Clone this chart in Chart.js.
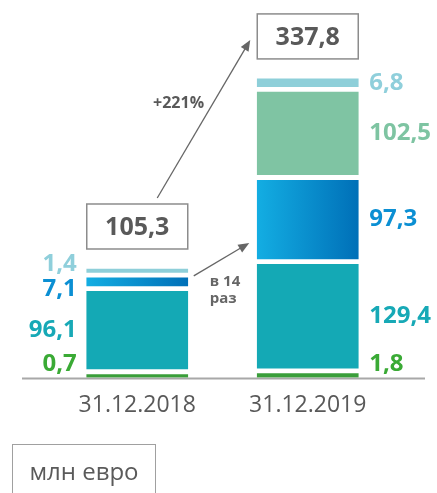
<!DOCTYPE html>
<html>
<head>
<meta charset="utf-8">
<script src="https://cdn.jsdelivr.net/npm/chart.js@4.4.1/dist/chart.umd.min.js"></script>
<style>
    html, body { margin: 0; padding: 0; background: #fff; }
    #wrap { position: relative; width: 437px; height: 493px; overflow: hidden; }
    #unit {
        position: absolute; left: 12px; top: 444px; width: 142px; height: 60px;
        border: 1px solid #a0a0a0; color: #5a5a5a; text-align: center;
        font: 24px "Open Sans", sans-serif; line-height: 52px;
    }
</style>
</head>
<body>
<div id="wrap">
    <canvas id="chart" width="437" height="493"></canvas>
    <div id="unit">млн евро</div>
</div>
<script>
const categories = ['31.12.2018', '31.12.2019'];
const greenValues = [0.7, 1.8];
const tealValues = [96.1, 129.4];
const blueValues = [7.1, 97.3];
const mintValues = [null, 102.5];
const lightValues = [1.4, 6.8];

const GAP = 7;   // white gap between stacked segments (value units)
const PAD = 3;   // keeps the thin segments visible

const stackOrder = [greenValues, tealValues, blueValues, mintValues, lightValues];
const labelColors = ['#3aaa35', '#17a9b6', '#0b8fd3', '#7ec4a2', '#8fcfdb'];

// floating ranges built from the values, bottom to top
const ranges = stackOrder.map(() => []);
categories.forEach((c, i) => {
    let top = 0;
    let first = true;
    stackOrder.forEach((vals, k) => {
        const v = vals[i];
        if (v == null) { ranges[k].push(null); return; }
        const start = first ? 0 : top + GAP;
        const end = start + v + PAD;
        ranges[k].push([start, end]);
        top = end;
        first = false;
    });
});

const totals = categories.map((c, i) => stackOrder.reduce((s, vals) => s + (vals[i] || 0), 0));
const fmt = v => v.toFixed(1).replace('.', ',');

const blueGradient = (ctx) => {
    const chart = ctx.chart;
    if (!chart.chartArea || ctx.dataIndex == null) return '#0a8fd0';
    const x = chart.scales.x.getPixelForValue(ctx.dataIndex);
    const g = chart.ctx.createLinearGradient(x - 50, 0, x + 50, 0);
    g.addColorStop(0, '#13ade2');
    g.addColorStop(1, '#0070b8');
    return g;
};

function arrow(ctx, x1, y1, x2, y2) {
    const a = Math.atan2(y2 - y1, x2 - x1);
    ctx.strokeStyle = '#666';
    ctx.fillStyle = '#666';
    ctx.lineWidth = 1.3;
    ctx.beginPath();
    ctx.moveTo(x1, y1);
    ctx.lineTo(x2 - 8 * Math.cos(a), y2 - 8 * Math.sin(a));
    ctx.stroke();
    ctx.beginPath();
    ctx.moveTo(x2, y2);
    ctx.lineTo(x2 - 11 * Math.cos(a) + 4.5 * Math.sin(a), y2 - 11 * Math.sin(a) - 4.5 * Math.cos(a));
    ctx.lineTo(x2 - 11 * Math.cos(a) - 4.5 * Math.sin(a), y2 - 11 * Math.sin(a) + 4.5 * Math.cos(a));
    ctx.closePath();
    ctx.fill();
}

const baseline = {
    id: 'baseline',
    beforeDatasetsDraw(chart) {
        const ctx = chart.ctx;
        const y0 = chart.scales.y.getPixelForValue(0);
        ctx.save();
        ctx.strokeStyle = '#a8a8a8';
        ctx.lineWidth = 2;
        ctx.beginPath();
        ctx.moveTo(22, y0 + 1);
        ctx.lineTo(425, y0 + 1);
        ctx.stroke();
        ctx.restore();
    }
};

const annotations = {
    id: 'annotations',
    afterDatasetsDraw(chart) {
        const ctx = chart.ctx;
        const y0 = chart.scales.y.getPixelForValue(0);
        const boxes = [];
        ctx.save();

        categories.forEach((c, i) => {
            // segment labels
            const items = [];
            let topY = y0, left = 0, right = 0;
            stackOrder.forEach((vals, k) => {
                const el = chart.getDatasetMeta(k).data[i];
                if (vals[i] == null || !el) return;
                items.push({ text: fmt(vals[i]), color: labelColors[k], y: (el.y + el.base) / 2 });
                topY = Math.min(topY, el.y);
                left = el.x - el.width / 2;
                right = el.x + el.width / 2;
            });
            const limit = y0 - 13;
            items[0].y = Math.min(items[0].y, limit);
            for (let pass = 0; pass < 3; pass++) {
                for (let j = 1; j < items.length; j++) {
                    if (items[j - 1].y - items[j].y < 25) {
                        const mid = (items[j - 1].y + items[j].y) / 2;
                        items[j - 1].y = Math.min(mid + 12.5, j - 1 === 0 ? limit : Infinity);
                        items[j].y = items[j - 1].y - 25;
                    }
                }
            }
            ctx.font = 'bold 24px "Open Sans", sans-serif';
            ctx.textBaseline = 'middle';
            ctx.textAlign = i === 0 ? 'right' : 'left';
            items.forEach(it => {
                ctx.fillStyle = it.color;
                ctx.fillText(it.text, i === 0 ? left - 10 : right + 11, it.y);
            });

            // total box
            const bh = 45;
            const by = topY - 20 - bh;
            ctx.strokeStyle = '#8c8c8c';
            ctx.lineWidth = 1.5;
            ctx.strokeRect(left, by, right - left, bh);
            ctx.fillStyle = '#595959';
            ctx.textAlign = 'center';
            ctx.font = 'bold 25px "Open Sans", sans-serif';
            ctx.fillText(fmt(totals[i]), (left + right) / 2, by + bh / 2 + 1);
            boxes.push({ left, right, top: by, cx: (left + right) / 2 });
        });

        // total growth arrow
        const x1 = boxes[0].cx + 20, y1 = boxes[0].top - 6;
        const x2 = boxes[1].left - 7, y2 = boxes[1].top + 26;
        arrow(ctx, x1, y1, x2, y2);
        const growth = Math.round((totals[1] / totals[0] - 1) * 100);
        ctx.font = 'bold 16px "Open Sans", sans-serif';
        ctx.fillStyle = '#595959';
        ctx.textAlign = 'right';
        ctx.fillText('+' + growth + '%', x1 + 0.6 * (x2 - x1) - 9, y1 + 0.6 * (y2 - y1));

        // blue segment arrow
        const b0 = chart.getDatasetMeta(2).data[0];
        const b1 = chart.getDatasetMeta(2).data[1];
        const ax1 = boxes[0].right + 6, ay1 = b0.y - 2;
        const ax2 = boxes[1].left - 8, ay2 = b1.base - 16;
        arrow(ctx, ax1, ay1, ax2, ay2);
        const times = Math.round(blueValues[1] / blueValues[0]);
        ctx.font = 'bold 15px "Open Sans", sans-serif';
        ctx.textAlign = 'left';
        ctx.fillText('в ' + times, boxes[0].right + 22, ay1 + 6);
        ctx.fillText('раз', boxes[0].right + 22, ay1 + 23);
        ctx.restore();
    }
};

const colors = ['#3a9e3a', '#14a9b5', blueGradient, '#7fc4a3', '#8ecfd9'];

new Chart(document.getElementById('chart'), {
    type: 'bar',
    data: {
        labels: categories,
        datasets: ranges.map((r, k) => ({
            data: r,
            backgroundColor: colors[k],
            borderWidth: 0,
            grouped: false,
            barThickness: 101
        }))
    },
    options: {
        responsive: false,
        animation: false,
        layout: { padding: { top: 9, left: 52, right: 44, bottom: 60 } },
        plugins: {
            legend: { display: false },
            tooltip: { enabled: false }
        },
        scales: {
            x: {
                grid: { display: false, drawTicks: false },
                border: { display: false },
                ticks: {
                    padding: 14,
                    color: '#595959',
                    font: { family: '"Open Sans", sans-serif', size: 23 }
                }
            },
            y: {
                display: false,
                min: 0,
                max: 470
            }
        }
    },
    plugins: [baseline, annotations]
});
</script>
</body>
</html>
